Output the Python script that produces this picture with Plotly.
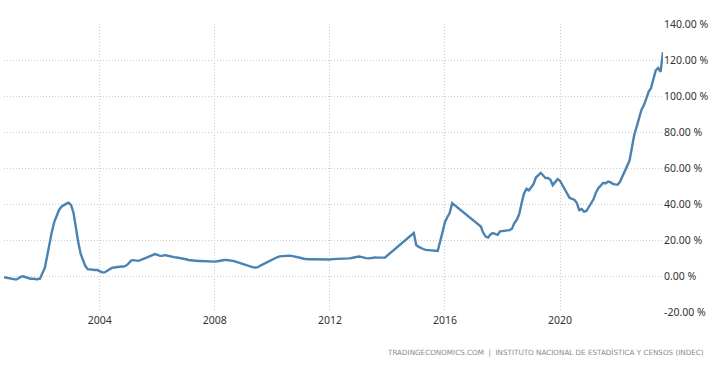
import pandas as pd
import plotly.graph_objects as go

# ---- data (YoY inflation rate, %) ----
dates_2000_2013 = pd.date_range("2000-09-01", "2013-12-01", freq="MS")
vals_2000_2013 = (
    [-0.7, -0.9, -1.1, -1.3]
    + [-1.8, -2.0, -1.4, -0.5, -0.2, -0.6, -1.2, -1.5, -1.5, -1.7, -1.8, -1.5]
    + [2.0, 4.5, 10.5, 18.5, 24.5, 30.0, 33.5, 36.7, 38.5, 39.4, 40.2, 40.7]
    + [39.4, 35.0, 27.0, 19.0, 12.5, 9.0, 5.5, 3.8, 3.5, 3.3, 3.3, 3.3]
    + [2.5, 2.0, 2.0, 2.7, 3.8, 4.5, 4.7, 4.9, 5.4, 5.3, 5.2, 5.8]
    + [7.0, 8.6, 8.8, 8.6, 8.4, 8.8, 9.4, 9.8, 10.3, 10.8, 11.8, 12.2]
    + [11.8, 11.2, 11.2, 11.6, 11.4, 11.0, 10.6, 10.5, 10.3, 10.1, 9.9, 9.8]
    + [9.3, 8.9, 8.7, 8.5, 8.3, 8.3, 8.3, 8.2, 8.2, 8.1, 8.1, 8.0]
    + [8.0, 8.2, 8.5, 8.8, 8.9, 8.9, 8.8, 8.6, 8.3, 7.8, 7.3, 6.8]
    + [6.3, 6.0, 5.6, 5.1, 4.8, 4.7, 4.9, 5.8, 6.5, 7.2, 8.0, 8.8]
    + [9.3, 9.9, 10.4, 10.9, 11.1, 11.2, 11.3, 11.3, 11.2, 11.0, 10.8, 10.5]
    + [10.0, 9.6, 9.3, 9.3, 9.3, 9.3, 9.3, 9.2, 9.2, 9.0, 8.9, 9.0]
    + [9.2, 9.4, 9.4, 9.5, 9.6, 9.6, 9.7, 9.8, 9.8, 10.0, 10.4, 10.7]
    + [10.8, 10.6, 10.2, 9.9, 9.8, 10.1, 10.4, 10.3, 10.2, 10.2, 10.2, 10.3]
)

dates_2014_2016 = (
    ["2014-12-01"]
    + [f"2015-{m:02d}-01" for m in range(1, 11)]
    + ["2015-12-01"]
    + [f"2016-{m:02d}-01" for m in range(1, 5)]
)
vals_2014_2016 = (
    [23.9]
    + [17.2, 16.2, 15.4, 15.0, 14.5, 14.3, 14.2, 14.1, 14.0, 13.9]
    + [24.4]
    + [30.0, 32.8, 35.0, 40.5]
)

dates_2017_2023 = pd.date_range("2017-04-01", "2023-08-01", freq="MS")
vals_2017_2023 = (
    [27.5, 24.0, 21.9, 21.4, 23.1, 23.8, 23.2, 22.9, 24.8]
    + [25.0, 25.4, 25.4, 25.5, 26.3, 29.5, 31.2, 34.4, 40.5, 45.9, 48.5, 47.6]
    + [49.3, 51.3, 54.7, 55.8, 57.3, 55.8, 54.4, 54.5, 53.5, 50.5, 52.1, 53.8]
    + [52.9, 50.3, 48.4, 45.6, 43.4, 42.8, 42.4, 40.7, 36.6, 37.2, 35.8, 36.1]
    + [38.5, 40.7, 42.6, 46.3, 48.8, 50.2, 51.8, 51.4, 52.5, 52.1, 51.2, 50.9]
    + [50.7, 52.3, 55.1, 58.0, 60.7, 64.0, 71.0, 78.5, 83.0, 88.0, 92.4, 94.8]
    + [98.8, 102.5, 104.3, 108.8, 114.2, 115.6, 113.4, 124.4]
)

x_ticks = ["2004-01-01", "2008-01-01", "2012-01-01", "2016-01-01", "2020-01-01"]
x_tick_labels = ["2004", "2008", "2012", "2016", "2020"]
y_ticks = [-20, 0, 20, 40, 60, 80, 100, 120, 140]
source_text = "TRADINGECONOMICS.COM  |  INSTITUTO NACIONAL DE ESTADÍSTICA Y CENSOS (INDEC)"

dates = list(pd.to_datetime(dates_2000_2013)) + list(pd.to_datetime(dates_2014_2016)) + list(pd.to_datetime(dates_2017_2023))
values = vals_2000_2013 + vals_2014_2016 + vals_2017_2023

fig = go.Figure()
fig.add_trace(go.Scatter(
    x=dates, y=values, mode="lines",
    line=dict(color="#4c82b0", width=2.4),
    hoverinfo="x+y",
))

grid_color = "#cccccc"
fig.update_layout(
    width=717, height=384,
    margin=dict(l=4, r=54, t=24, b=72),
    paper_bgcolor="white", plot_bgcolor="white",
    showlegend=False,
    font=dict(family="Noto Sans, Open Sans, sans-serif", size=10, color="#333333"),
    xaxis=dict(
        range=[dates[0], dates[-1]],
        tickvals=x_ticks, ticktext=x_tick_labels,
        showgrid=True, gridcolor=grid_color, griddash="1px,2px", gridwidth=1,
        zeroline=False, showline=False, ticks="",
        tickfont=dict(size=10.5, color="#333333"),
    ),
    yaxis=dict(
        range=[-20, 140], side="right",
        tickvals=y_ticks, ticktext=[f"{v:.2f} %" for v in y_ticks],
        showgrid=True, gridcolor=grid_color, griddash="1px,2px", gridwidth=1,
        zeroline=False, showline=False, ticks="",
        tickfont=dict(size=10.5, color="#333333"),
    ),
    annotations=[dict(
        text=source_text, xref="paper", yref="paper",
        x=1.0 + 43 / 659, y=-40 / 288, xanchor="right", yanchor="middle",
        showarrow=False, font=dict(size=7.2, color="#8a8a8a", family="DejaVu Sans, sans-serif"),
    )],
)

fig.write_html(
    "out.html",
    config={"displayModeBar": False},
    post_script="document.body.style.margin='0';document.body.style.padding='0';",
)
